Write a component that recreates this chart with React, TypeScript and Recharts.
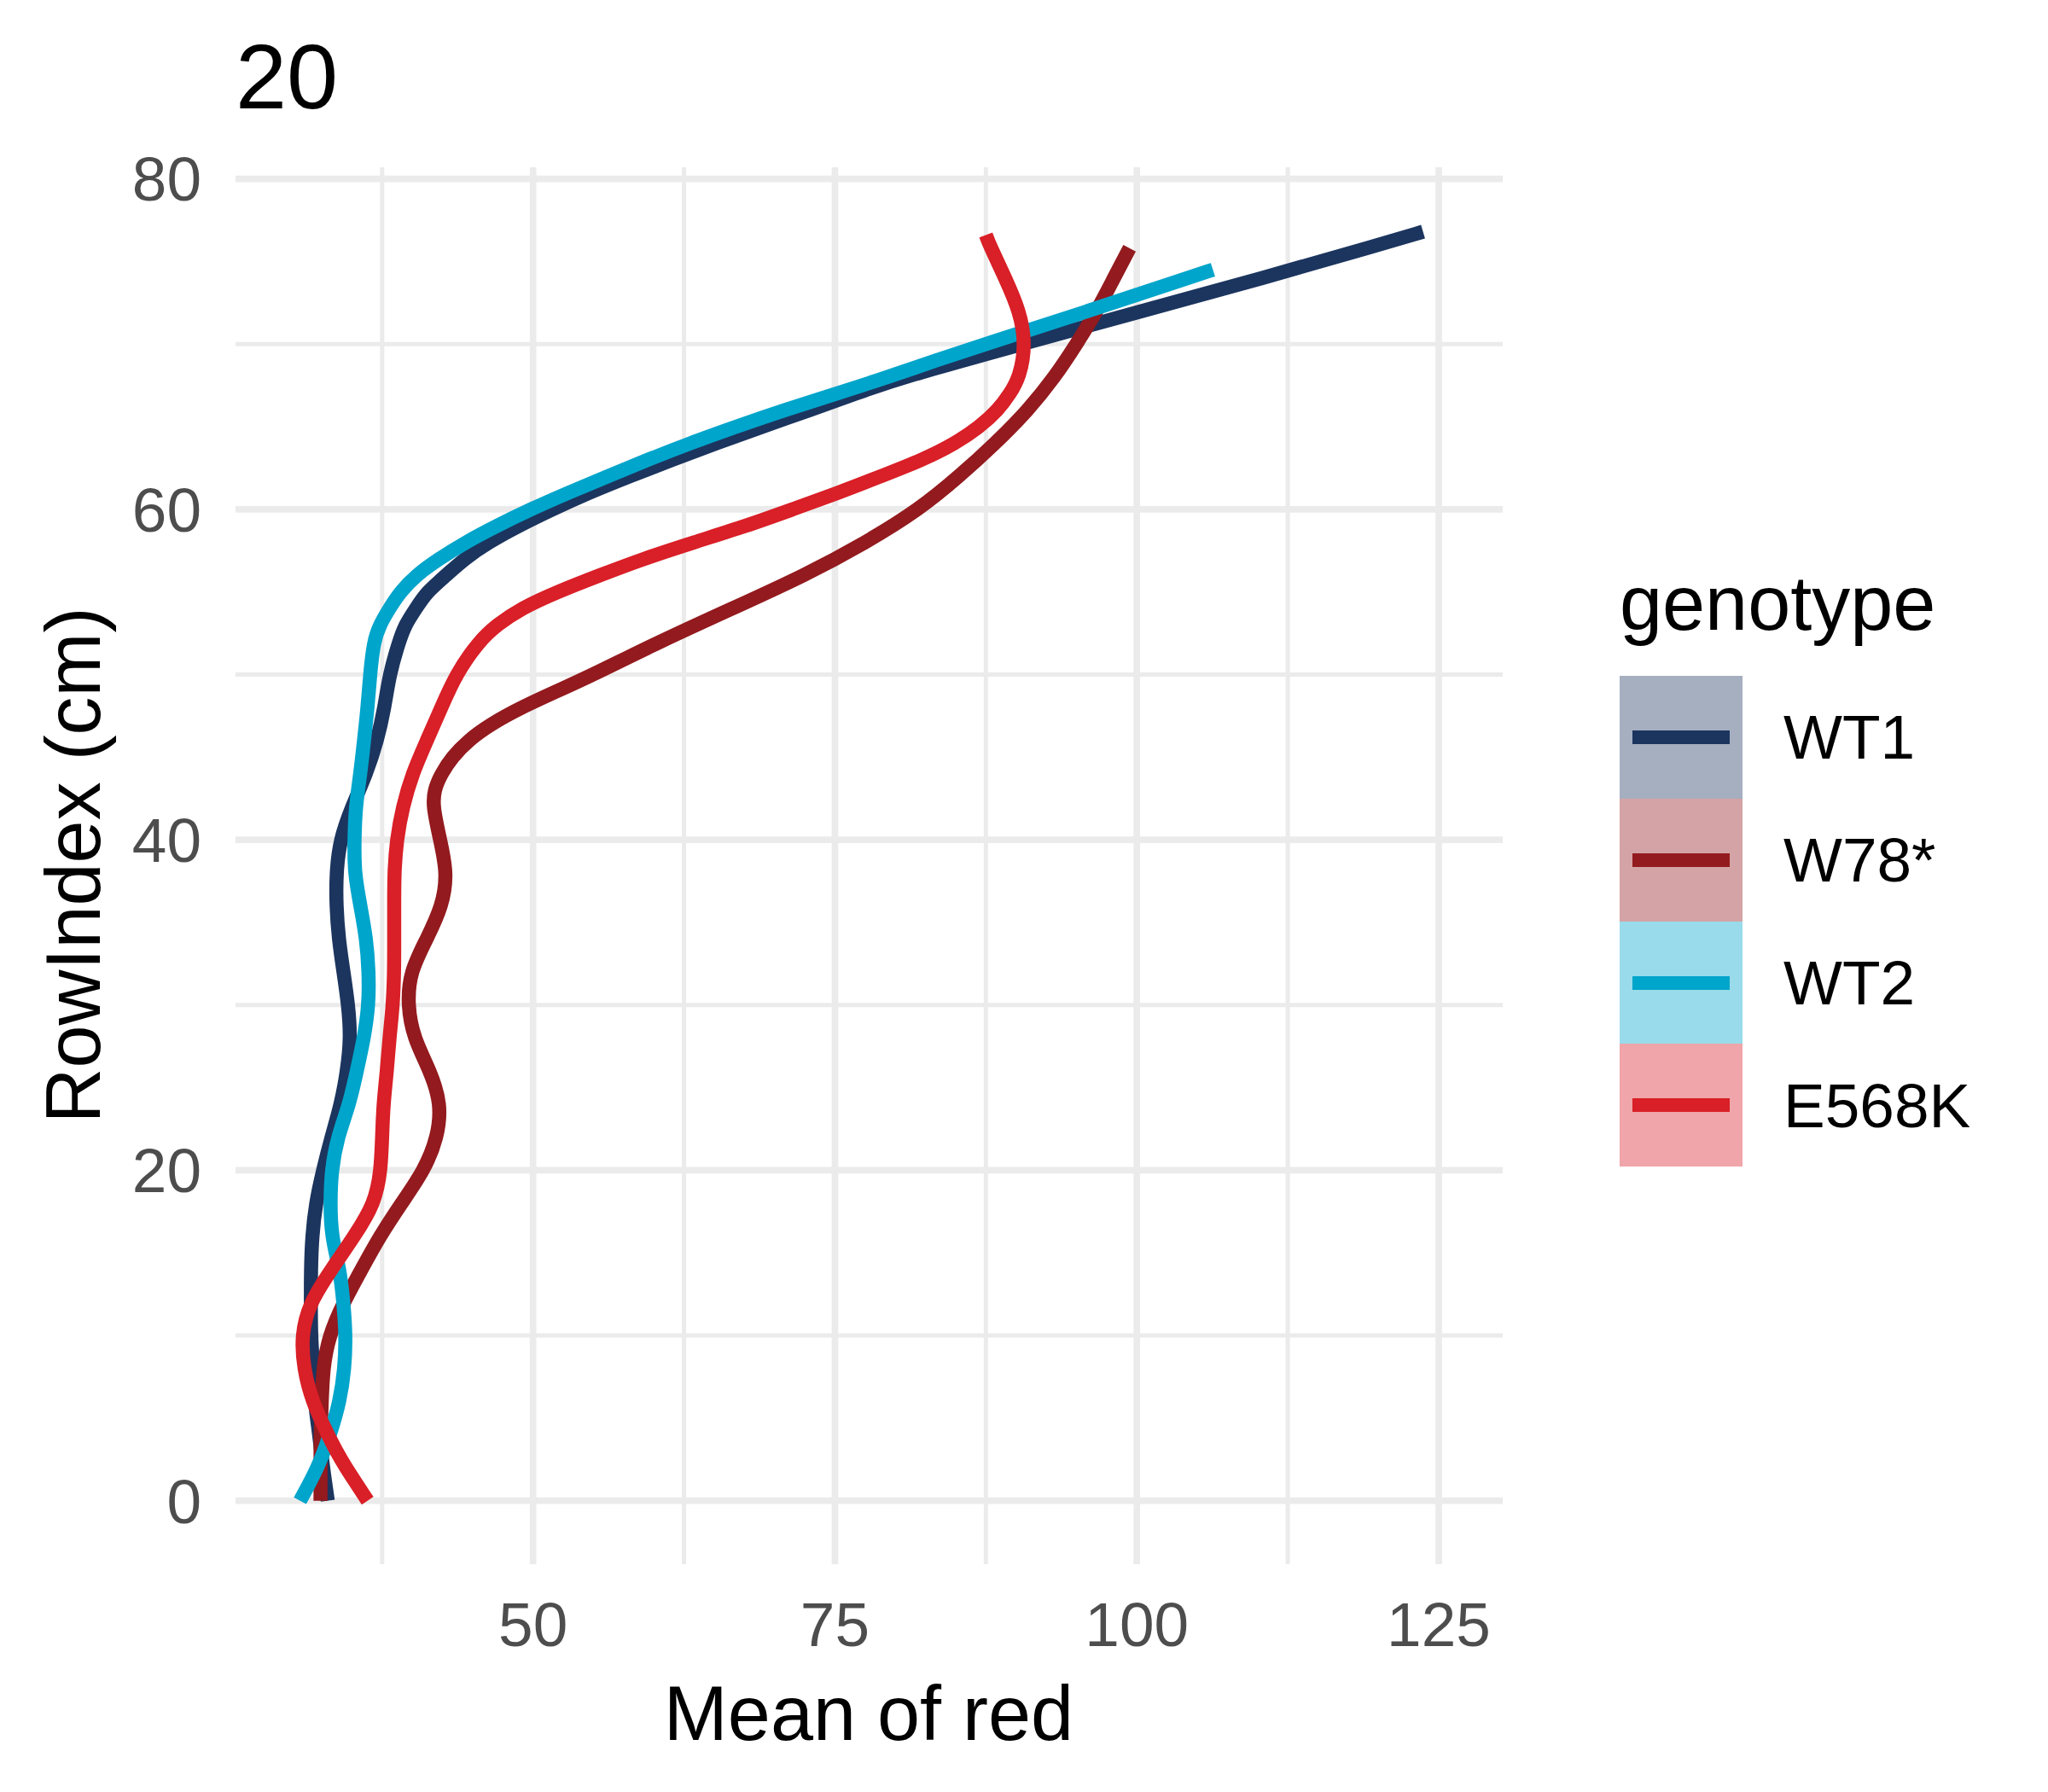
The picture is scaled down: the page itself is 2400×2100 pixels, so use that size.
import React from "react";
import { LineChart, Line, XAxis, YAxis, CartesianGrid, Legend } from "recharts";

const FONT = "'Liberation Sans', Arial, sans-serif";

const genotypes = ["WT1", "W78*", "WT2", "E568K"];
const lineColors = ["#1C355E", "#931A1E", "#00A5CB", "#D91F27"];
const ribbonColors = ["#A5AFC0", "#D4A3A5", "#99DBEA", "#EFA5A9"];

// RowIndex (cm) and smoothed mean of red
const wt1Row = [0, 2, 4, 6, 8, 10, 12, 14, 16, 18, 20, 22, 24, 26, 28, 30, 32, 34, 36, 38, 40, 42, 44, 46, 48, 50, 52, 53, 54, 55, 56, 57, 58, 59, 60, 61, 62, 63, 64, 65, 66, 67, 68, 70, 72, 74, 76, 76.8];
const wt1Red = [33.0, 32.6, 32.3, 31.9, 31.8, 31.6, 31.6, 31.6, 31.7, 32.0, 32.6, 33.3, 34.1, 34.6, 34.9, 34.7, 34.3, 33.9, 33.7, 33.7, 34.0, 35.0, 36.2, 37.1, 37.7, 38.1, 38.9, 39.4, 40.3, 41.2, 42.8, 44.3, 46.3, 48.8, 51.6, 54.6, 58.0, 61.5, 65.2, 69.0, 72.9, 76.7, 80.6, 90.5, 100.4, 110.5, 120.0, 123.7];

const w78Row = [0, 2, 4, 6, 8, 10, 12, 14, 16, 18, 20, 22, 24, 26, 28, 30, 32, 34, 36, 38, 40, 42, 43, 44, 45, 46, 47, 48, 49, 50, 52, 54, 56, 58, 60, 62, 64, 66, 68, 70, 72, 74, 75.8];
const w78Red = [32.4, 32.4, 32.4, 32.5, 32.6, 33.1, 34.3, 35.8, 37.3, 39.1, 41.0, 42.1, 42.4, 41.5, 40.1, 39.6, 39.8, 41.2, 42.5, 42.9, 42.3, 41.7, 41.8, 42.4, 43.3, 44.6, 46.5, 49.0, 52.0, 55.0, 60.5, 66.5, 72.5, 77.6, 82.0, 85.3, 88.3, 91.0, 93.2, 95.0, 96.7, 98.1, 99.4];

const wt2Row = [0, 2, 4, 6, 8, 10, 12, 14, 16, 18, 20, 22, 24, 26, 28, 30, 32, 34, 36, 38, 40, 42, 44, 46, 48, 50, 52, 53, 54, 55, 56, 57, 58, 59, 60, 61, 62, 63, 64, 65, 66, 67, 68, 69, 70, 72, 74, 74.5];
const wt2Red = [30.7, 32.2, 33.2, 34.0, 34.4, 34.5, 34.3, 34.0, 33.3, 33.2, 33.3, 33.8, 34.8, 35.4, 36.0, 36.4, 36.4, 36.2, 35.7, 35.2, 35.2, 35.3, 35.7, 36.0, 36.3, 36.5, 36.8, 37.3, 38.1, 39.0, 40.3, 42.2, 44.4, 47.0, 49.8, 52.9, 56.2, 59.5, 63.0, 66.8, 70.8, 75.1, 79.4, 83.3, 87.5, 96.0, 104.2, 106.3];

const e568kRow = [0, 1, 2, 3, 4, 6, 8, 10, 12, 14, 16, 18, 20, 22, 24, 26, 28, 30, 32, 34, 36, 38, 40, 42, 44, 46, 48, 50, 52, 53, 54, 55, 56, 57, 58, 59, 60, 61, 62, 63, 64, 65, 66, 67, 68, 70, 72, 74, 76, 76.6];
const e568kRed = [36.3, 35.4, 34.5, 33.7, 33.0, 31.7, 31.0, 30.8, 31.5, 33.3, 35.2, 36.9, 37.4, 37.5, 37.6, 37.9, 38.1, 38.4, 38.5, 38.5, 38.5, 38.5, 38.7, 39.2, 40.0, 41.2, 42.4, 43.6, 45.5, 47.0, 49.0, 52.0, 55.5, 59.1, 63.3, 67.7, 71.5, 75.3, 78.8, 82.3, 85.0, 87.0, 88.5, 89.5, 90.3, 90.8, 90.3, 89.1, 87.8, 87.5];

const xTicks = [50, 75, 100, 125];
const xMinor = [37.5, 62.5, 87.5, 112.5];
const yTicks = [0, 20, 40, 60, 80];
const yMinor = [10, 30, 50, 70];

const rows = [wt1Row, w78Row, wt2Row, e568kRow];
const reds = [wt1Red, w78Red, wt2Red, e568kRed];

const series = genotypes.map((name, i) => ({
  name,
  color: lineColors[i],
  fill: ribbonColors[i],
  data: rows[i].map((y, j) => ({ y, x: reds[i][j] })),
}));

// legend drawn in genotype (factor) order, like ggplot does
function GenotypeLegend() {
  return (
    <div style={{ fontFamily: FONT, color: "#000" }}>
      <div style={{ fontSize: 90, lineHeight: "90px", height: 90 }}>genotype</div>
      <div style={{ marginTop: 40 }}>
        {series.map((s) => (
          <div key={s.name} style={{ display: "flex", alignItems: "center", height: 143.75 }}>
            <div style={{ width: 144, height: 143.75, background: s.fill, position: "relative" }}>
              <div
                style={{
                  position: "absolute",
                  left: 15,
                  width: 114,
                  top: 64,
                  height: 16,
                  background: s.color,
                }}
              />
            </div>
            <div style={{ marginLeft: 48, fontSize: 73 }}>{s.name}</div>
          </div>
        ))}
      </div>
    </div>
  );
}

export default function App() {
  const tickStyle = { fill: "#4D4D4D", fontSize: 73, fontFamily: FONT };
  return (
    <div style={{ position: "absolute", left: 0, top: 0, width: 2400, height: 2100, background: "#fff" }}>
      <LineChart
        layout="vertical"
        width={2400}
        height={2100}
        margin={{ top: 196, right: 639, left: 196, bottom: 187 }}
      >
        <CartesianGrid horizontalValues={yMinor} verticalValues={xMinor} stroke="#EBEBEB" strokeWidth={5} />
        <CartesianGrid horizontalValues={yTicks} verticalValues={xTicks} stroke="#EBEBEB" strokeWidth={7.7} />
        <XAxis
          type="number"
          domain={[25.36, 130.3]}
          ticks={xTicks}
          interval={0}
          allowDataOverflow
          axisLine={false}
          tickLine={false}
          tickSize={0}
          tickMargin={44}
          height={80}
          tick={tickStyle}
        />
        <YAxis
          type="number"
          dataKey="y"
          domain={[-3.84, 80.7]}
          reversed
          ticks={yTicks}
          interval={0}
          allowDataOverflow
          axisLine={false}
          tickLine={false}
          tickSize={0}
          tickMargin={40}
          width={80}
          tick={tickStyle}
        />
        {series.map((s) => (
          <Line
            key={s.name}
            name={s.name}
            data={s.data}
            dataKey="x"
            type="basis"
            stroke={s.color}
            strokeWidth={16.5}
            strokeLinecap="butt"
            dot={false}
            activeDot={false}
            isAnimationActive={false}
          />
        ))}
        <Legend
          layout="vertical"
          align="center"
          verticalAlign="middle"
          wrapperStyle={{ left: 1898, top: 662, width: 500 }}
          content={() => <GenotypeLegend />}
        />
        <text x={276} y={127} fontSize={108} fontFamily={FONT} fill="#000">
          20
        </text>
        <text x={1018} y={2039} fontSize={90} fontFamily={FONT} fill="#000" textAnchor="middle">
          Mean of red
        </text>
        <text
          x={117}
          y={1014}
          fontSize={90}
          fontFamily={FONT}
          fill="#000"
          textAnchor="middle"
          transform="rotate(-90 117 1014)"
        >
          RowIndex (cm)
        </text>
      </LineChart>
    </div>
  );
}
